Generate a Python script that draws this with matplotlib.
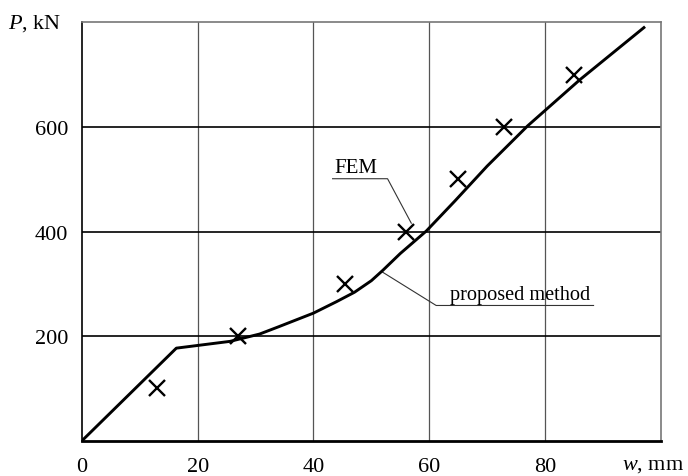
import matplotlib
matplotlib.use("Agg")
import matplotlib.pyplot as plt

plt.rc('font', family='Liberation Serif')
plt.rc('font', size=16)
plt.rc('mathtext', fontset='custom', it='Liberation Serif:italic', rm='Liberation Serif')

# proposed method curve (w in mm, P in kN)
w_method = [0, 16.3, 25.6, 30.7, 34, 40, 44, 47.1, 50, 52, 55, 59.5, 64.4, 70, 77, 86, 97.1]
p_method = [0, 177, 190, 204, 218, 244, 266, 284, 306, 326, 358, 401, 458, 525, 602, 690, 790]

# FEM points
w_fem = [13, 27, 45.5, 56, 65, 73, 85]
p_fem = [100, 200, 300, 400, 500, 600, 700]

x_ticks = [0, 20, 40, 60, 80]
y_ticks = [200, 400, 600]

fig = plt.figure(figsize=(6.88, 4.77), dpi=100)
ax = fig.add_axes([0.1192, 0.074, 0.8411, 0.877])

ax.set_xlim(0, 100)
ax.set_ylim(0, 800)

# grid
for xv in [20, 40, 60, 80]:
    ax.axvline(xv, color='#555555', lw=0.9, zorder=1)
for yv in y_ticks:
    ax.axhline(yv, color='black', lw=1.2, zorder=1)

ax.plot(w_method, p_method, color='black', lw=2.1, zorder=3, solid_joinstyle='round')
ax.plot(w_fem, p_fem, linestyle='none', marker='x', color='black',
        markersize=11, markeredgewidth=1.7, zorder=4)

# spines
for side in ['top', 'right']:
    ax.spines[side].set_color('#777777')
    ax.spines[side].set_linewidth(1.2)
ax.spines['left'].set_color('black')
ax.spines['left'].set_linewidth(1.2)
ax.spines['bottom'].set_color('black')
ax.spines['bottom'].set_linewidth(2.0)

ax.set_xticks(x_ticks)
ax.set_yticks(y_ticks)
ax.tick_params(length=0)
ax.tick_params(axis='x', pad=11.5)
ax.tick_params(axis='y', pad=10)

# axis labels
ax.text(-0.128, 1.0, r'$P$, kN', transform=ax.transAxes, ha='left', va='center')
ax.text(1.04, -0.058, r'$w$, mm', transform=ax.transAxes, ha='right', va='center')

# annotations with leader lines
ax.text(43.6, 505, 'FEM', ha='left', va='bottom', fontsize=15)
ax.plot([43.3, 52.8, 56.9], [501, 501, 416], color='#333333', lw=0.8, zorder=2)

ax.text(63.6, 262, 'proposed method', ha='left', va='bottom', fontsize=14.6)
ax.plot([88.4, 61.2, 51.9], [258.6, 258.6, 322.6], color='#333333', lw=0.8, zorder=2)

fig.savefig('out.png', dpi=100)
